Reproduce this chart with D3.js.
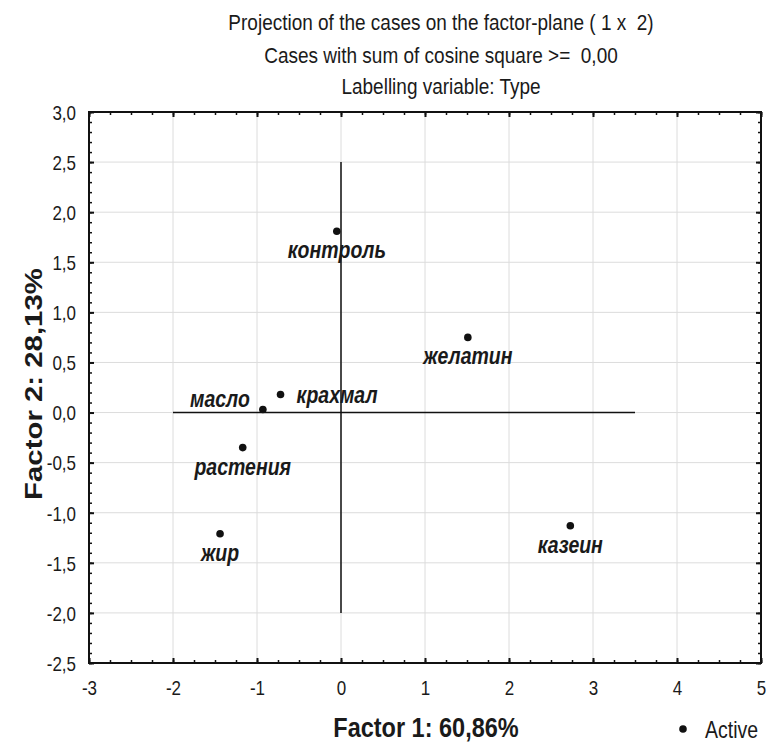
<!DOCTYPE html>
<html>
<head>
<meta charset="utf-8">
<script src="https://cdn.jsdelivr.net/npm/d3@7"></script>
<style>
  html, body { margin: 0; padding: 0; background: #fff; }
  text { font-family: "Liberation Sans", Arial, sans-serif; fill: #1a1a1a; white-space: pre; }
</style>
</head>
<body>
<svg id="chart" width="767" height="742"></svg>
<script>
// ---- data ----
const caseNames = ["контроль", "желатин", "крахмал", "масло", "растения", "жир", "казеин"];
const factor1   = [-0.05, 1.51, -0.72, -0.93, -1.17, -1.44, 2.73];
const factor2   = [ 1.81, 0.75,  0.18,  0.03, -0.35, -1.21, -1.13];
const labelSide = ["below", "below", "right", "left", "below", "below", "below"];
const xTicks = [-3, -2, -1, 0, 1, 2, 3, 4, 5];
const yTicks = [-2.5, -2.0, -1.5, -1.0, -0.5, 0.0, 0.5, 1.0, 1.5, 2.0, 2.5, 3.0];
const titleLines = [
  "Projection of the cases on the factor-plane ( 1 x  2)",
  "Cases with sum of cosine square >=  0,00",
  "Labelling variable: Type"
];
const xTitle = "Factor 1: 60,86%";
const yTitle = "Factor 2: 28,13%";
const legendLabel = "Active";

// ---- layout ----
const svg = d3.select("#chart");
const L = 89, R = 761, T = 112, B = 663;
const SY = 1.2; // vertical stretch of the original picture
const x = d3.scaleLinear().domain([-3, 5]).range([L, R]);
const y = d3.scaleLinear().domain([-2.5, 3]).range([B, T]);
const fmtY = v => d3.format(".1f")(v).replace(".", ",").replace("−", "-");
const fmtX = v => String(v);

function stext(g, tx, ty, str, opts) {
  const sx = opts.sx || 1, sy = opts.sy || 1;
  return g.append("text")
    .attr("xml:space", "preserve")
    .attr("transform", `translate(${tx},${ty}) ${opts.rotate ? "rotate(" + opts.rotate + ")" : ""} scale(${sx},${sy})`)
    .attr("text-anchor", opts.anchor || "middle")
    .style("font-size", opts.size + "px")
    .style("font-weight", opts.weight || "normal")
    .style("font-style", opts.style || "normal")
    .text(str);
}

// gridlines
const grid = svg.append("g");
grid.selectAll("line.gx").data(xTicks.filter(d => d > -3 && d < 5)).join("line")
  .attr("x1", d => x(d)).attr("x2", d => x(d)).attr("y1", T).attr("y2", B)
  .attr("stroke", "#dcdcdc").attr("stroke-width", 1);
grid.selectAll("line.gy").data(yTicks.filter(d => d > -2.5 && d < 3)).join("line")
  .attr("x1", L).attr("x2", R).attr("y1", d => y(d)).attr("y2", d => y(d))
  .attr("stroke", "#dcdcdc").attr("stroke-width", 1);

// axes with inward ticks (major + minor)
const xMinor = d3.range(-3, 5.001, 0.25);
const yMinor = d3.range(-2.5, 3.001, 0.1);
function styleMaj(g) {
  g.select(".domain").remove();
  g.selectAll("line").attr("stroke", "#111").attr("stroke-width", 2);
}
function styleMin(g) {
  g.select(".domain").remove();
  g.selectAll("line").attr("stroke", "#111").attr("stroke-width", 1.5);
}
function addX(pos, bottom, labels) {
  const mk = () => bottom ? d3.axisBottom(x) : d3.axisTop(x);
  svg.append("g").attr("transform", `translate(0,${pos})`)
    .call(mk().tickValues(xMinor).tickSize(-3).tickFormat("")).call(styleMin);
  return svg.append("g").attr("transform", `translate(0,${pos})`)
    .call(mk().tickValues(xTicks).tickSize(-5).tickFormat(labels ? fmtX : "")).call(styleMaj);
}
function addY(pos, left, labels) {
  const mk = () => left ? d3.axisLeft(y) : d3.axisRight(y);
  svg.append("g").attr("transform", `translate(${pos},0)`)
    .call(mk().tickValues(yMinor).tickSize(-3).tickFormat("")).call(styleMin);
  return svg.append("g").attr("transform", `translate(${pos},0)`)
    .call(mk().tickValues(yTicks).tickSize(-5).tickFormat(labels ? fmtY : "")).call(styleMaj);
}
const gxb = addX(B, true, true);
addX(T, false, false);
const gyl = addY(L, true, true);
addY(R, false, false);

gxb.selectAll("text")
  .style("font-size", "17px").style("font-family", "'Liberation Sans', Arial, sans-serif")
  .attr("fill", "#222").attr("y", null).attr("dy", null)
  .attr("transform", `translate(0,32) scale(1,${SY})`);
gyl.selectAll("text")
  .style("font-size", "17px").style("font-family", "'Liberation Sans', Arial, sans-serif")
  .attr("fill", "#222").attr("x", null).attr("dy", null)
  .attr("transform", `translate(-13,7.3) scale(1,${SY})`);

// frame
svg.append("rect").attr("x", L).attr("y", T).attr("width", R - L).attr("height", B - T)
  .attr("fill", "none").attr("stroke", "#111").attr("stroke-width", 2);

// reference axes through origin
svg.append("line").attr("x1", x(-2)).attr("x2", x(3.5)).attr("y1", y(0)).attr("y2", y(0))
  .attr("stroke", "#111").attr("stroke-width", 1.5);
svg.append("line").attr("x1", x(0)).attr("x2", x(0)).attr("y1", y(2.5)).attr("y2", y(-2))
  .attr("stroke", "#111").attr("stroke-width", 1.5);

// points
const pts = caseNames.map((n, i) => ({ name: n, f1: factor1[i], f2: factor2[i], side: labelSide[i] }));
svg.append("g").selectAll("circle").data(pts).join("circle")
  .attr("cx", d => x(d.f1)).attr("cy", d => y(d.f2)).attr("r", 3.8).attr("fill", "#111");

// labels
const lg = svg.append("g");
pts.forEach(d => {
  const px = x(d.f1), py = y(d.f2);
  let tx = px, ty = py + 27, anchor = "middle";
  if (d.side === "right") { tx = px + 16; ty = py + 8; anchor = "start"; }
  if (d.side === "left") { tx = px - 13; ty = py - 3; anchor = "end"; }
  stext(lg, tx, ty, d.name, { size: 19.5, weight: "bold", style: "italic", anchor, sy: SY });
});

// titles
const tg = svg.append("g");
const titleBase = [30, 63, 94];
titleLines.forEach((s, i) => stext(tg, 441, titleBase[i], s, { size: 19, sy: SY }));

// axis titles
stext(svg, 426, 737, xTitle, { size: 23.5, weight: "bold", sy: SY });
stext(svg, 42, 384, yTitle, { size: 23.5, weight: "bold", rotate: -90, sx: 1.25 });

// legend
svg.append("circle").attr("cx", 683).attr("cy", 729).attr("r", 3.8).attr("fill", "#111");
stext(svg, 705, 738, legendLabel, { size: 19.5, anchor: "start", sy: SY });
</script>
</body>
</html>
